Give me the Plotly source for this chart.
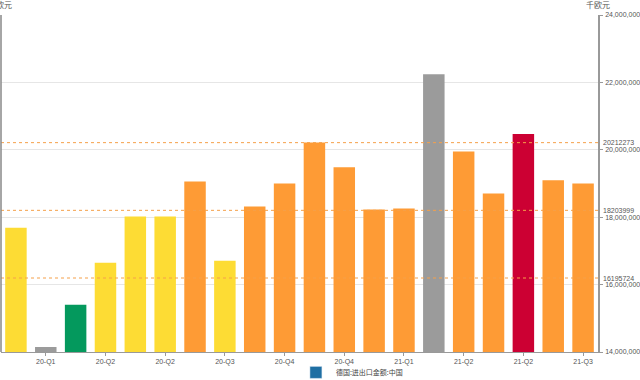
import plotly.graph_objects as go

# Data
quarters = ["20-Q1", "20-Q1", "20-Q1", "20-Q2", "20-Q2", "20-Q2", "20-Q3", "20-Q3", "20-Q3",
            "20-Q4", "20-Q4", "20-Q4", "21-Q1", "21-Q1", "21-Q1", "21-Q2", "21-Q2", "21-Q2",
            "21-Q3", "21-Q3"]
values = [17690000, 14150000, 15400000, 16650000, 18020000, 18020000, 19060000, 16710000,
          18320000, 19000000, 20220000, 19480000, 18230000, 18260000, 22240000, 19950000,
          18700000, 20470000, 19100000, 19000000]
bar_colors = ["#fddc34", "#9b9b9b", "#04995d", "#fddc34", "#fddc34", "#fddc34", "#fe9b35",
              "#fddc34", "#fe9b35", "#fe9b35", "#fe9b35", "#fe9b35", "#fe9b35", "#fe9b35",
              "#9b9b9b", "#fe9b35", "#fe9b35", "#cc0033", "#fe9b35", "#fe9b35"]
ref_values = [20212273, 18203999, 16195724]
y_ticks = [14000000, 16000000, 18000000, 20000000, 22000000, 24000000]
unit = "千欧元"
series_name = "德国:进出口金额:中国"

FONT = "Liberation Sans, Arial, Noto Sans CJK SC, sans-serif"
CJK = "Noto Sans CJK SC, sans-serif"
xs = list(range(len(values)))
tick_idx = [i for i in xs if i % 2 == 1]

fig = go.Figure()
fig.add_trace(go.Bar(x=xs, y=values, marker=dict(color=bar_colors, line=dict(width=0)),
                     width=0.72, showlegend=False, name=series_name))
fig.add_trace(go.Bar(x=[None], y=[None], marker=dict(color="#1f6fa3"), name=series_name,
                     showlegend=True))

for v in ref_values:
    fig.add_shape(type="line", xref="paper", yref="y", x0=0, x1=1, y0=v, y1=v,
                  line=dict(color="#f5a04a", width=1, dash="dot"), layer="above")
    fig.add_annotation(xref="paper", yref="y", x=1.0, xshift=3, y=v, text=str(v), showarrow=False,
                       xanchor="left", yanchor="middle", font=dict(size=7, color="#555", family=FONT))

# left axis line
fig.add_shape(type="line", xref="paper", yref="paper", x0=0, x1=0, y0=0, y1=1,
              line=dict(color="#888", width=1.5))

fig.add_annotation(xref="paper", yref="paper", x=0.0, xshift=13, y=1.0, yshift=3, text=unit,
                   showarrow=False, xanchor="right", yanchor="bottom",
                   font=dict(size=8, color="#555", family=CJK))
fig.add_annotation(xref="paper", yref="paper", x=1.0, y=1.0, yshift=3, text=unit, showarrow=False,
                   xanchor="center", yanchor="bottom", font=dict(size=8, color="#555", family=CJK))

fig.update_layout(
    width=640, height=380,
    margin=dict(l=1, r=42, t=15, b=28, autoexpand=False),
    plot_bgcolor="white", paper_bgcolor="white",
    font=dict(family=FONT, size=7, color="#555"),
    showlegend=True,
    legend=dict(orientation="h", x=0.494, xanchor="left", yref="container", y=0.02,
                yanchor="middle", bgcolor="rgba(0,0,0,0)",
                font=dict(size=7, color="#444", family=CJK), itemwidth=30),
    xaxis=dict(range=[-0.5, len(values) - 0.5], tickvals=tick_idx, automargin=False,
               ticktext=[quarters[i] for i in tick_idx], showgrid=False, zeroline=False,
               showline=True, linecolor="#999", linewidth=1, ticks="outside", ticklen=3,
               tickcolor="#999", tickfont=dict(size=7, color="#555")),
    yaxis=dict(side="right", range=[14000000, 24000000], tickvals=y_ticks, automargin=False,
               tickformat=",d", showgrid=True, gridcolor="#e6e6e6", zeroline=False,
               showline=True, linecolor="#999", linewidth=1.5, ticks="outside", ticklen=3,
               tickcolor="#999", ticklabelstandoff=1, tickfont=dict(size=7, color="#555")),
)

fig.write_html("out.html", config={"displayModeBar": False},
               post_script="document.body.style.margin='0';document.body.style.overflow='hidden';")
